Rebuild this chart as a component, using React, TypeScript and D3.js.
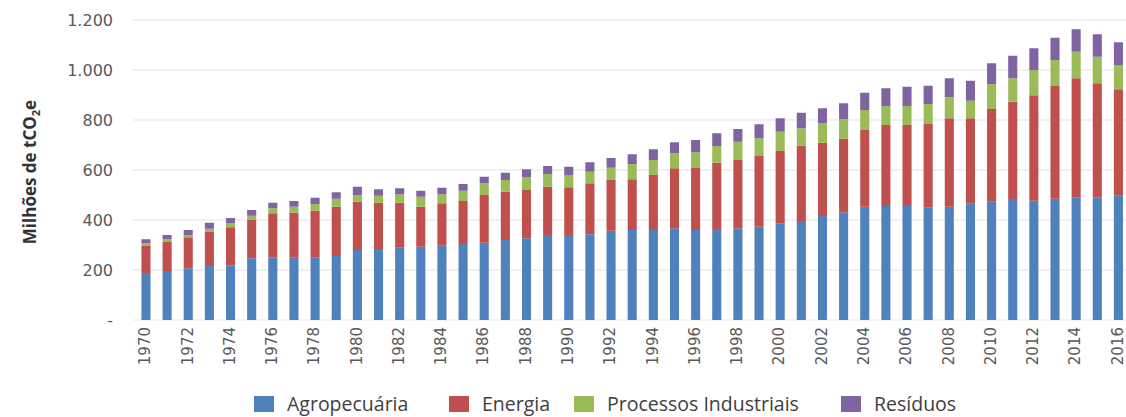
import React from "react";
import * as d3 from "d3";

const years: number[] = d3.range(1970, 2017);
const agropecuaria = [188,196,207,216,219,247,251,251,251,256,280,284,289,293,297,304,309,320,327,340,340,343,357,360,360,367,360,364,367,373,387,396,416,431,453,456,456,449,453,467,473,484,477,485,491,491,499];
const energia = [108,116,124,136,152,153,176,178,186,197,193,185,180,160,170,172,191,193,193,193,191,204,203,203,220,240,248,265,273,283,289,301,293,294,307,324,324,335,354,340,371,389,422,451,476,456,424];
const processos = [11,11,9,13,16,17,20,24,27,32,27,28,34,40,36,41,47,47,51,51,49,46,49,61,60,60,63,67,73,71,77,70,78,78,80,76,76,80,84,70,100,94,101,104,106,106,97];
const residuos = [16,17,20,24,21,23,22,23,25,26,33,26,24,24,26,27,26,29,32,32,33,38,39,39,43,44,49,51,51,56,54,62,60,64,69,71,77,73,76,80,83,90,87,89,90,90,91];
const seriesNames = ["Agropecuária", "Energia", "Processos Industriais", "Resíduos"];
const seriesColors = ["#4F81BD", "#C0504D", "#9BBB59", "#8064A2"];
const yTicks = [0, 200, 400, 600, 800, 1000, 1200];

export default function App() {
  const W = 1126, H = 417;
  const keys = ["a", "e", "p", "r"];
  const rows = years.map((y, i) => ({ year: y, a: agropecuaria[i], e: energia[i], p: processos[i], r: residuos[i] }));
  const stacked = d3.stack<any>().keys(keys)(rows);
  const x = d3.scaleBand<number>().domain(years).range([135.4, 1129]).paddingInner(0.57).paddingOuter(0.285);
  const y = d3.scaleLinear().domain([0, 1200]).range([320, 20]);
  const fmt = (v: number) => (v === 0 ? "-" : d3.format(",")(v).replace(/,/g, "."));
  const legendX = [254, 449, 574, 841];

  return (
    <svg width={W} height={H} style={{ position: "absolute", left: 0, top: 0, background: "#fff" }}>
      {yTicks.map((t) => (
        <g key={t}>
          {t > 0 && <line x1={133} x2={W} y1={y(t)} y2={y(t)} stroke="#e3e3e3" strokeWidth={1} />}
          <text x={113} y={y(t)} dy="0.35em" textAnchor="end" fontFamily="DejaVu Sans" fontSize={16} fill="#595959">
            {fmt(t)}
          </text>
        </g>
      ))}
      <line x1={133} x2={W} y1={y(0)} y2={y(0)} stroke="#e8e8e8" strokeWidth={1} />
      {stacked.map((s, si) => (
        <g key={si} fill={seriesColors[si]}>
          {s.map((d: any, i: number) => (
            <rect key={i} x={x(d.data.year)} width={x.bandwidth()} y={y(d[1])} height={y(d[0]) - y(d[1])} />
          ))}
        </g>
      ))}
      {years.filter((yr) => yr % 2 === 0).map((yr) => (
        <text key={yr} transform={`translate(${(x(yr) as number) + x.bandwidth() / 2 - 1},327) rotate(-90)`} dy="0.35em" textAnchor="end" fontFamily="DejaVu Sans" fontSize={15} fill="#595959">
          {yr}
        </text>
      ))}
      <text transform="translate(36,172) rotate(-90)" textAnchor="middle" fontFamily="Open Sans" fontWeight="bold" fontSize={17} fill="#333">
        Milhões de tCO<tspan fontSize={11} dy="4">2</tspan><tspan dy="-4">e</tspan>
      </text>
      {seriesNames.map((n, i) => (
        <g key={n} transform={`translate(${legendX[i]},404)`}>
          <rect x={0} y={-8} width={20} height={16} fill={seriesColors[i]} />
          <text x={33} y={0} dy="0.35em" fontFamily="Open Sans" fontSize={19.5} fill="#404040">{n}</text>
        </g>
      ))}
    </svg>
  );
}
